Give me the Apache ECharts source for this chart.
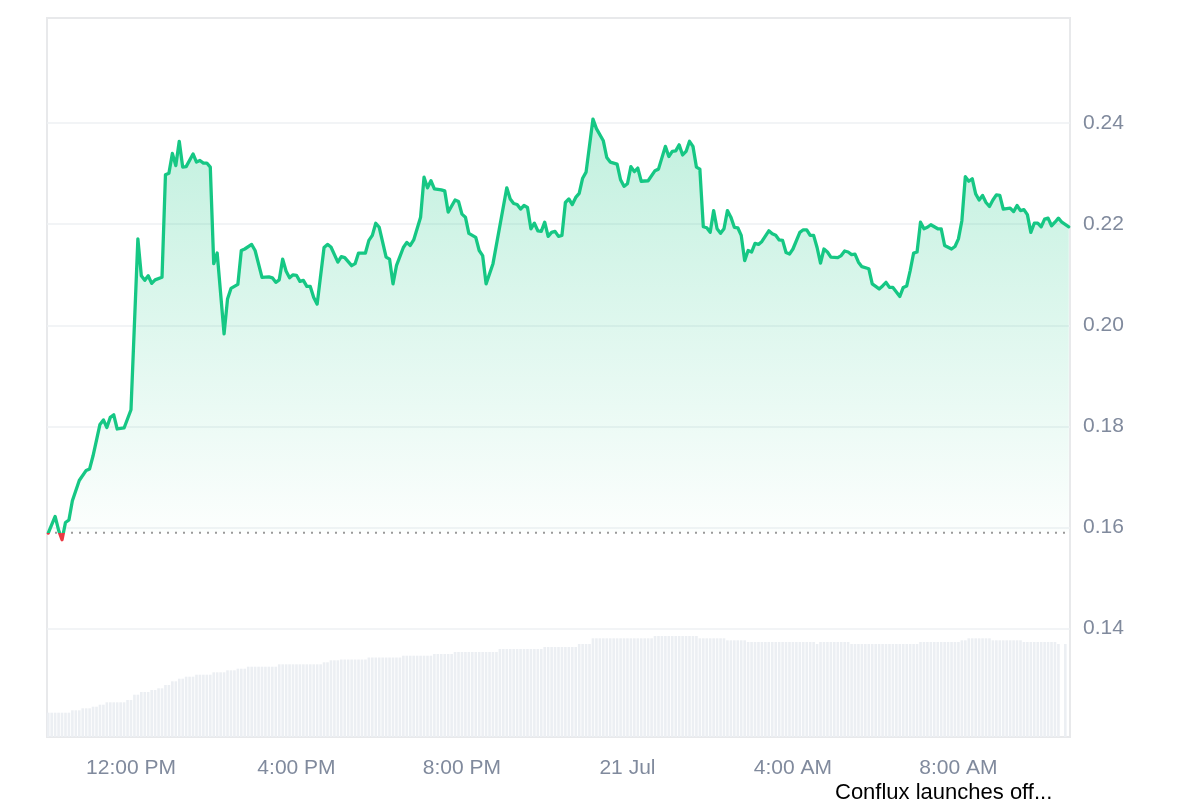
<!DOCTYPE html>
<html>
<head>
<meta charset="utf-8">
<script src="https://cdn.jsdelivr.net/npm/echarts@6/dist/echarts.min.js"></script>
<style>
  html, body { margin: 0; padding: 0; background: #ffffff; }
  #chart { width: 1200px; height: 800px; }
</style>
</head>
<body>
<div id="chart"></div>
<script>
// Minutes since 20 Jul 10:00 AM
const priceMinutes = [
  0,10,15,20,25,30,35,45,55,60,65,75,80,85,90,95,100,110,120,130,135,140,145,150,155,165,
  170,175,180,185,190,195,200,210,215,220,225,230,235,240,245,255,260,265,275,280,285,295,300,
  310,320,325,330,335,340,345,350,355,360,365,370,375,380,385,390,400,405,410,420,425,430,440,
  445,450,460,465,470,475,480,490,495,500,505,515,520,525,530,540,545,550,555,560,570,575,580,
  590,595,600,605,610,620,625,630,635,645,665,670,675,680,685,690,695,700,705,710,715,720,725,
  730,735,740,745,750,755,760,765,770,775,780,790,795,805,810,815,825,830,835,840,845,850,855,
  860,870,880,885,895,900,905,910,915,920,925,930,935,940,945,950,955,960,965,970,975,980,985,
  990,995,1000,1005,1010,1015,1020,1025,1030,1035,1045,1050,1055,1060,1065,1070,1075,1080,1090,
  1095,1100,1105,1110,1115,1120,1125,1130,1135,1145,1150,1155,1160,1165,1170,1175,1180,1190,1195,
  1205,1210,1215,1220,1225,1235,1240,1245,1250,1255,1260,1265,1270,1275,1280,1290,1295,1300,1310,
  1315,1320,1325,1330,1335,1340,1345,1350,1355,1360,1365,1370,1375,1380,1385,1395,1400,1405,1410,
  1415,1420,1425,1430,1435,1440,1445,1450,1455,1460,1465,1470,1480
];
const priceValues = [
  0.1589,0.1622,0.1595,0.1576,0.1610,0.1615,0.1653,0.1693,0.1713,0.1716,0.1742,0.1804,0.1813,0.1798,0.1818,0.1823,0.1795,0.1797,0.1833,0.2171,0.2098,0.2089,0.2098,0.2083,0.2090,0.2095,
  0.2298,0.2301,0.2340,0.2316,0.2364,0.2313,0.2314,0.2339,0.2323,0.2326,0.2321,0.2321,0.2313,0.2122,0.2143,0.1983,0.2052,0.2073,0.2081,0.2148,0.2151,0.2160,0.2148,
  0.2095,0.2096,0.2094,0.2085,0.2090,0.2131,0.2107,0.2094,0.2100,0.2099,0.2087,0.2089,0.2077,0.2077,0.2055,0.2042,0.2154,0.2160,0.2155,0.2125,0.2136,0.2134,0.2118,
  0.2122,0.2143,0.2143,0.2168,0.2178,0.2202,0.2194,0.2135,0.2131,0.2082,0.2118,0.2154,0.2164,0.2158,0.2169,0.2214,0.2293,0.2272,0.2286,0.2270,0.2268,0.2266,0.2224,
  0.2248,0.2245,0.2220,0.2214,0.2182,0.2174,0.2148,0.2138,0.2082,0.2122,0.2272,0.2250,0.2241,0.2239,0.2230,0.2237,0.2233,0.2191,0.2202,0.2187,0.2186,0.2204,0.2176,
  0.2184,0.2186,0.2176,0.2178,0.2243,0.2250,0.2239,0.2253,0.2261,0.2291,0.2303,0.2408,0.2389,0.2365,0.2332,0.2323,0.2319,0.2288,0.2275,0.2280,0.2314,0.2304,0.2311,
  0.2285,0.2286,0.2306,0.2309,0.2354,0.2334,0.2344,0.2345,0.2357,0.2337,0.2344,0.2364,0.2354,0.2313,0.2309,0.2195,0.2193,0.2184,0.2227,0.2191,0.2182,0.2191,0.2227,
  0.2214,0.2194,0.2193,0.2178,0.2128,0.2148,0.2145,0.2162,0.2160,0.2166,0.2187,0.2181,0.2178,0.2169,0.2168,0.2144,0.2141,0.2151,0.2184,
  0.2189,0.2189,0.2178,0.2178,0.2154,0.2123,0.2151,0.2145,0.2135,0.2134,0.2138,0.2147,0.2145,0.2140,0.2141,0.2125,0.2116,0.2112,0.2082,
  0.2072,0.2078,0.2085,0.2075,0.2075,0.2057,0.2075,0.2078,0.2108,0.2143,0.2145,0.2204,0.2191,0.2194,0.2199,0.2191,0.2191,0.2158,0.2151,
  0.2156,0.2171,0.2207,0.2294,0.2285,0.2290,0.2260,0.2248,0.2257,0.2243,0.2235,0.2248,0.2258,0.2257,0.2230,0.2232,0.2225,0.2237,0.2227,
  0.2229,0.2219,0.2184,0.2202,0.2202,0.2195,0.2210,0.2212,0.2197,0.2204,0.2212,0.2204,0.2195
];
const baselinePrice = 0.159;

// 5-minute volume bars (millions), bar i at minute i*5
const volumeValues = [
  24.3,24.3,24.3,24.3,24.3,24.3,24.3,26.7,26.7,26.7,28.7,28.7,28.7,30.3,30.3,32.3,32.3,34.7,34.7,34.7,
  34.7,34.7,34.7,37,37,42.3,42.3,45,45,45,47,47,48.7,48.7,52,52,55.7,55.7,58.3,58.3,
  60.3,60.3,60.3,62.3,62.3,62.3,62.3,62.3,64.7,64.7,64.7,64.7,66.7,66.7,66.7,68.3,68.3,68.3,70.3,70.3,
  70.3,70.3,70.3,70.3,70.3,70.3,70.3,72.7,72.7,72.7,72.7,72.7,72.7,72.7,72.7,72.7,72.7,72.7,72.7,72.7,
  74.7,74.7,76.7,76.7,76.7,77.5,77.5,77.5,77.5,77.5,77.5,77.5,77.5,79.5,79.5,79.5,79.5,79.5,79.5,79.5,
  79.5,79.5,79.5,81.3,81.3,81.3,81.3,81.3,81.3,81.3,81.3,81.3,83,83,83,83,83,83,85,85,
  85,85,85,85,85,85,85,85,85,85,85,88,88,88,88,88,88,88,88,88,88,88,88,88,90,90,
  90,90,90,90,90,90,90,90,93,93,93,93,98.7,98.7,98.7,98.7,98.7,98.7,98.7,98.7,98.7,98.7,
  98.7,98.7,98.7,98.7,98.7,98.7,98.7,98.7,101,101,101,101,101,101,101,101,101,101,101,101,101,98.7,
  98.7,98.7,98.7,98.7,98.7,98.7,98.7,96.7,96.7,96.7,96.7,96.7,96.7,95,95,95,95,95,95,95,
  95,95,95,95,95,95,95,95,95,95,95,95,95,93,95,95,95,95,95,95,95,95,95,93,
  93,93,93,93,93,93,93,93,93,93,93,93,93,93,93,93,93,93,93,95,95,95,95,95,95,95,
  95,95,95,95,95,96.7,96.7,98.7,98.7,98.7,98.7,98.7,98.7,98.7,96.7,96.7,96.7,96.7,96.7,96.7,96.7,96.7,
  96.7,95,95,95,95,95,95,95,95,95,95,93,0,93
];

const tickMinutes = [120, 360, 600, 840, 1080, 1320];
const tickLabels = ['12:00 PM', '4:00 PM', '8:00 PM', '21 Jul', '4:00 AM', '8:00 AM'];

const FONT = '"Liberation Sans", Arial, Helvetica, sans-serif';
const X_MIN = -1.8, X_MAX = 1481.8;
const Y_MIN = 0.12, Y_MAX = 0.26;

const chart = echarts.init(document.getElementById('chart'), null, { renderer: 'canvas' });

const priceData = priceMinutes.map((m, i) => [m, priceValues[i]]);
const volumeData = volumeValues.map((v, i) => [i * 5, v]);

// Grid geometry (pixels)
const PRICE_TOP = 22, PRICE_BOTTOM_PX = 729.8;
const pxPerUnit = (PRICE_BOTTOM_PX - PRICE_TOP) / (Y_MAX - Y_MIN);
const baselinePx = PRICE_BOTTOM_PX - (baselinePrice - Y_MIN) * pxPerUnit;

const lineColor = new echarts.graphic.LinearGradient(0, 0, 0, 800, [
  { offset: 0, color: '#16c784' },
  { offset: baselinePx / 800, color: '#16c784' },
  { offset: baselinePx / 800, color: '#ea3943' },
  { offset: 1, color: '#ea3943' }
], true);

const option = {
  animation: false,
  backgroundColor: '#ffffff',
  textStyle: { fontFamily: FONT },
  grid: [
    { left: 47, right: 130, top: PRICE_TOP, bottom: 800 - PRICE_BOTTOM_PX, show: false },
    { left: 47, right: 130, top: 18, bottom: 63, show: true, borderColor: '#e8e9eb', borderWidth: 2, backgroundColor: 'transparent' },
    { left: 47, right: 130, top: PRICE_TOP, bottom: 800 - baselinePx, show: false }
  ],
  xAxis: [
    { gridIndex: 0, type: 'value', min: X_MIN, max: X_MAX, show: false },
    {
      gridIndex: 1, type: 'value', min: X_MIN, max: X_MAX,
      axisLine: { show: false }, axisTick: { show: false }, splitLine: { show: false },
      axisLabel: {
        customValues: tickMinutes,
        formatter: function (v) {
          const idx = tickMinutes.indexOf(Math.round(v));
          return idx >= 0 ? tickLabels[idx] : '';
        },
        color: '#808a9d', fontSize: 21, fontFamily: FONT, margin: 21
      }
    },
    { gridIndex: 2, type: 'value', min: X_MIN, max: X_MAX, show: false }
  ],
  yAxis: [
    {
      gridIndex: 0, type: 'value', position: 'right', min: Y_MIN, max: Y_MAX, interval: 0.02,
      axisLine: { show: false }, axisTick: { show: false },
      axisLabel: {
        showMinLabel: false, showMaxLabel: false,
        formatter: function (v) { return v.toFixed(2); },
        color: '#808a9d', fontSize: 21, fontFamily: FONT, margin: 13
      },
      splitLine: {
        show: true,
        lineStyle: {
          color: ['rgba(0,0,0,0)', '#eef0f3', '#eef0f3', '#eef0f3', '#eef0f3', '#eef0f3', '#eef0f3', 'rgba(0,0,0,0)'],
          width: 1.5
        }
      }
    },
    { gridIndex: 1, type: 'value', min: 0, max: 719, show: false, splitLine: { show: false } },
    { gridIndex: 2, type: 'value', min: baselinePrice, max: Y_MAX, show: false, splitLine: { show: false } }
  ],
  series: [
    {
      name: 'area', type: 'line', xAxisIndex: 2, yAxisIndex: 2, data: priceData,
      showSymbol: false, symbol: 'none', z: 3, clip: true,
      lineStyle: { width: 0, opacity: 0 },
      areaStyle: {
        origin: 'start',
        color: new echarts.graphic.LinearGradient(0, 0, 0, 1, [
          { offset: 0, color: 'rgba(22,199,132,0.38)' },
          { offset: 1, color: 'rgba(22,199,132,0.01)' }
        ])
      }
    },
    {
      name: 'baseline', type: 'line', xAxisIndex: 0, yAxisIndex: 0,
      data: [[X_MIN, baselinePrice], [X_MAX, baselinePrice]],
      showSymbol: false, symbol: 'none', z: 4, silent: true,
      lineStyle: { color: '#9a9a9a', type: [2, 6], width: 2 }
    },
    {
      name: 'price', type: 'line', xAxisIndex: 0, yAxisIndex: 0, data: priceData,
      showSymbol: false, symbol: 'none', z: 5,
      lineStyle: { width: 3.3, join: 'round', cap: 'round', color: lineColor }
    },
    {
      name: 'volume', type: 'bar', xAxisIndex: 1, yAxisIndex: 1, data: volumeData,
      barWidth: 2.6, itemStyle: { color: '#eceff3' }, z: 1, silent: true
    }
  ],
  graphic: [
    {
      type: 'text', left: 835, top: 782,
      style: { text: 'Conflux launches off...', fontSize: 22, fontFamily: FONT, fill: '#000000' }
    }
  ]
};

chart.setOption(option);
</script>
</body>
</html>
